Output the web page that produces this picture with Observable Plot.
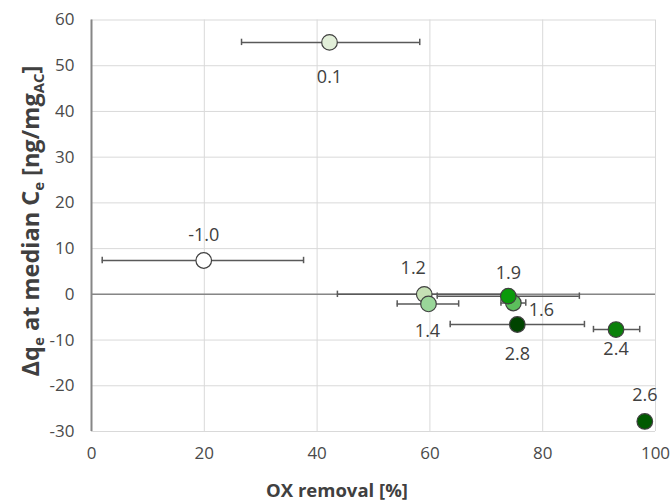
<!DOCTYPE html>
<html>
<head>
<meta charset="utf-8">
<script src="https://cdn.jsdelivr.net/npm/d3@7"></script>
<script src="https://cdn.jsdelivr.net/npm/@observablehq/plot@0.6"></script>
<style>
  html, body { margin: 0; padding: 0; background: #fff; }
  #chart { width: 670px; height: 504px; }
</style>
</head>
<body>
<div id="chart"></div>
<script>
// ---- Data ----
const labels    = ["0.1", "-1.0", "1.2", "1.4", "1.6", "1.9", "2.4", "2.6", "2.8"];
const oxRemoval = [42.2, 19.9, 59.0, 59.75, 74.8, 73.9, 93.0, 98.1, 75.5];
const deltaQ    = [55.1, 7.4, 0.0, -2.1, -1.9, -0.4, -7.7, -27.8, -6.6];
const xErrLow   = [26.6, 1.9, 43.6, 54.2, 72.6, 61.3, 89.0, null, 63.6];
const xErrHigh  = [58.2, 37.6, 74.4, 65.1, 77.0, 86.5, 97.2, null, 87.4];
const xTicks = [0, 20, 40, 60, 80, 100];
const yTicks = [-30, -20, -10, 0, 10, 20, 30, 40, 50, 60];

// ---- Styling ----
const fillColors = ["#e2efd9", "#ffffff", "#c5e0b4", "#99d699", "#5cbf5c", "#0a9a0a", "#0a800a", "#005a00", "#004400"];
const labelOffsets = {
  "0.1": [0, 35], "-1.0": [0, -25], "1.2": [-11, -26], "1.4": [-1, 27],
  "1.6": [28, 7], "1.9": [0, -23], "2.4": [0, 20], "2.6": [0, -26], "2.8": [0, 30]
};

const data = labels.map((l, i) => ({
  label: l, x: oxRemoval[i], y: deltaQ[i], lo: xErrLow[i], hi: xErrHigh[i]
}));
const errData = data.filter(d => d.lo != null);
const capHalf = 0.7;

const font = "Open Sans, Lato, sans-serif";
const tickColor = "#4a4a4a";
const fmt = d => String(d);

const marks = [
  Plot.gridX(xTicks, {stroke: "#d9d9d9", strokeOpacity: 1, strokeWidth: 1}),
  Plot.gridY(yTicks, {stroke: "#d9d9d9", strokeOpacity: 1, strokeWidth: 1}),
  Plot.ruleY([0], {stroke: "#868686", strokeWidth: 1.5}),
  Plot.ruleX([0], {stroke: "#868686", strokeWidth: 2}),
  Plot.axisX(xTicks, {tickSize: 0, tickPadding: 15, fontSize: 17, fill: tickColor, label: null, tickFormat: fmt}),
  Plot.axisY(yTicks, {tickSize: 0, tickPadding: 17, fontSize: 17, fill: tickColor, label: null, tickFormat: fmt}),
  Plot.ruleY(errData, {y: "y", x1: "lo", x2: "hi", stroke: "#595959", strokeWidth: 1.5}),
  Plot.ruleX(errData, {x: "lo", y1: d => d.y - capHalf, y2: d => d.y + capHalf, stroke: "#595959", strokeWidth: 1.5}),
  Plot.ruleX(errData, {x: "hi", y1: d => d.y - capHalf, y2: d => d.y + capHalf, stroke: "#595959", strokeWidth: 1.5}),
  Plot.dot(data, {x: "x", y: "y", r: 7.8, fill: d => fillColors[labels.indexOf(d.label)], stroke: "#404040", strokeWidth: 1.2}),
  ...labels.map(l => Plot.text(data.filter(d => d.label === l), {
    x: "x", y: "y", text: "label",
    dx: labelOffsets[l][0], dy: labelOffsets[l][1],
    fontSize: 18, fill: "#404040", lineAnchor: "middle"
  }))
];

const chart = Plot.plot({
  width: 670,
  height: 504,
  marginLeft: 91,
  marginRight: 15,
  marginTop: 19.5,
  marginBottom: 73,
  style: {fontFamily: font, background: "#fff", overflow: "visible"},
  x: {domain: [0, 100], label: null},
  y: {domain: [-30, 60], label: null},
  marks
});

document.getElementById("chart").appendChild(chart);

// Axis titles with subscripts
const svg = d3.select(chart);
svg.append("text")
  .attr("x", 337)
  .attr("y", 492)
  .attr("text-anchor", "middle")
  .attr("dominant-baseline", "middle")
  .attr("font-family", font)
  .attr("font-size", 18.5)
  .attr("font-weight", "bold")
  .attr("fill", "#404040")
  .text("OX removal [%]");

const yt = svg.append("text")
  .attr("transform", "translate(39,221) rotate(-90)")
  .attr("text-anchor", "middle")
  .attr("font-family", font)
  .attr("font-size", 23.5)
  .attr("font-weight", "bold")
  .attr("fill", "#404040");
yt.append("tspan").text("Δq");
yt.append("tspan").attr("font-size", 15).attr("dy", 5).text("e");
yt.append("tspan").attr("dy", -5).text(" at median C");
yt.append("tspan").attr("font-size", 15).attr("dy", 5).text("e");
yt.append("tspan").attr("dy", -5).text(" [ng/mg");
yt.append("tspan").attr("font-size", 15).attr("dy", 5).text("AC");
yt.append("tspan").attr("dy", -5).text("]");
</script>
</body>
</html>
